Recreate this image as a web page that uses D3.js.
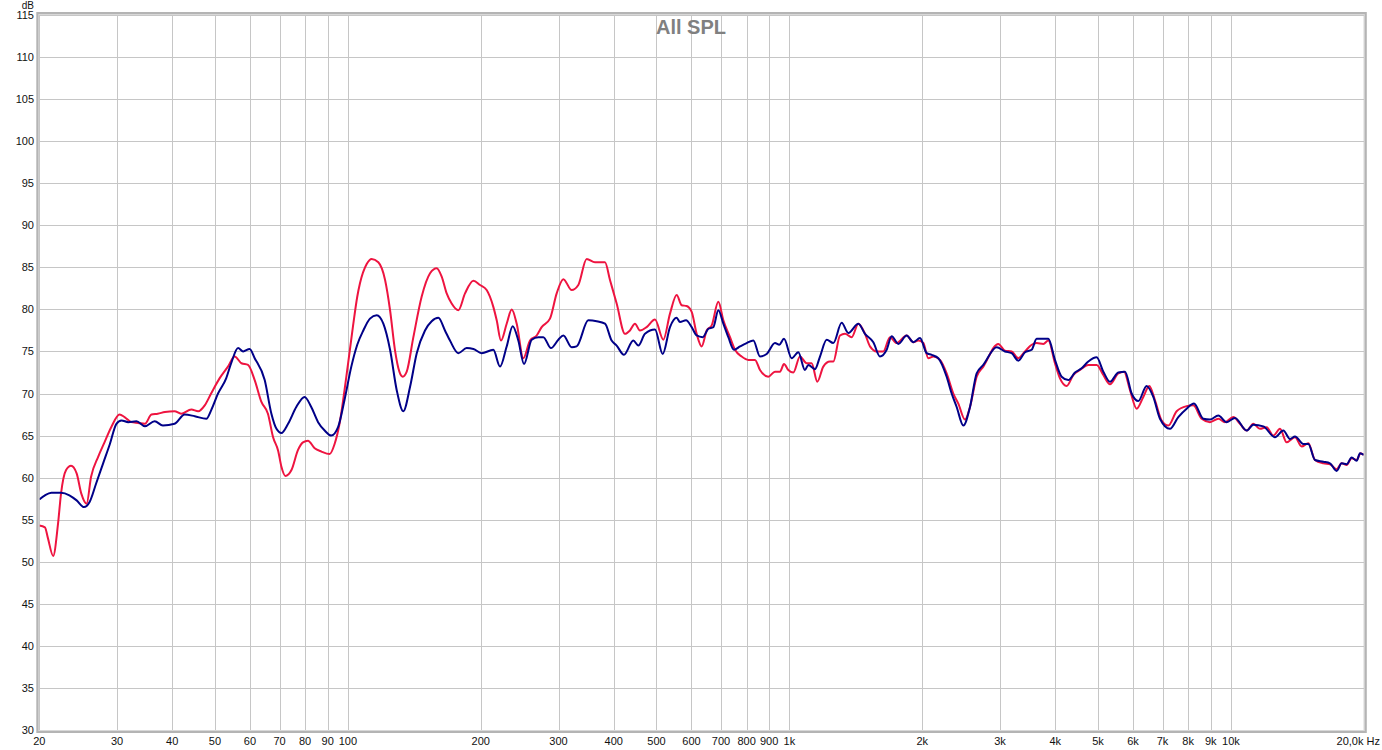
<!DOCTYPE html>
<html>
<head>
<meta charset="utf-8">
<script src="https://cdn.jsdelivr.net/npm/d3@7"></script>
<style>
  body { margin: 0; background: #fff; }
  svg { display: block; font-family: "Liberation Sans", Arial, sans-serif; }
  .grid line { stroke: #c6c6c6; stroke-width: 1; shape-rendering: crispEdges; }
  .lbl { font-size: 11px; fill: #111; }
</style>
</head>
<body>
<svg width="1382" height="750"></svg>
<script>
// values
const redFreq = [20, 20.6, 20.9, 21.5, 22.05, 22.4, 23.0, 23.6, 24.3, 24.9, 25.6, 26.2, 27.2, 28.1, 29.1,
  30.4, 31.2, 32.3, 33.5, 34.7, 35.9, 37.1, 38.5, 40.5, 41.9, 44.2, 45.8, 47.4, 49.0, 51.2, 53.5, 55.4,
  57.4, 59.4, 61.5, 63.7, 65.9, 67.7, 69.5, 70.7, 72.2, 74.5, 77.1, 79.1, 81.2, 84.1, 87.1, 90.9, 93.3,
  95.8, 99.2, 102.7, 105.0,
  106.5, 110.3, 113.2, 117.2, 121.4, 124.6, 127.8, 130.8, 133.1, 135.9, 140.7, 146.9, 153.5, 158.9, 163.1,
  167.4, 171.8, 177.9, 184.2, 192.4, 199.2, 206.2, 213.5, 217.3, 222.2, 228.9, 235.0, 241.2, 249.7, 258.5,
  267.7, 274.7, 286.9, 297.1, 307.6, 321.3, 332.6, 347.4, 362.8, 382.2, 392.3, 406.2, 424.2, 435.4, 446.9,
  458.7, 475.0, 496.1, 518.1, 536.5, 555.5,
  570.1, 585.2, 600.7, 616.5, 632.9, 649.6, 666.8, 690.3, 708.6, 733.6, 753.0, 779.6, 807.2, 835.8, 857.9,
  895.9, 927.6, 952.1, 972.2, 994.4, 1020.6, 1056.8, 1094.2, 1123.1, 1156.8, 1193.5, 1235.8, 1257.5, 1302,
  1336.4, 1383.7, 1432.6, 1483.3, 1522.5, 1576.4, 1632.1, 1689.9, 1749.7, 1843.4, 1908.6, 1959, 2010.8,
  2063.8, 2118.4, 2193.4, 2271, 2351.2, 2413.4, 2498.8, 2564.8, 2655.6, 2749.4,
  2973, 3078, 3187, 3300, 3417, 3538, 3631, 3760, 3859, 3995, 4101, 4246, 4396, 4552, 4754, 4965, 5141,
  5323, 5559, 5726, 5908, 6117, 6333, 6534, 6731, 6969, 7215, 7536, 7939, 8220, 8586, 8967, 9365, 9697,
  10127, 10486, 10857, 11241, 11639, 12051, 12477, 12919, 13376, 13970, 14464, 14975, 15505, 16193, 16766,
  17359, 17818, 18289, 18772, 19268, 19674, 20000];
const redDb = [54.3, 54.1, 52.9, 50.7, 54.5, 58.1, 60.9, 61.4, 60.5, 58.1, 56.9, 60.1, 62.5, 64.2, 66.0,
  67.5, 67.2, 66.6, 66.5, 66.4, 67.5, 67.6, 67.8, 67.9, 67.6, 68.1, 67.9, 68.6, 70.0, 71.8, 73.2, 74.4,
  73.6, 73.4, 71.6, 69.0, 67.6, 64.8, 63.2, 61.3, 60.2, 60.9, 63.3, 64.2, 64.4, 63.5, 63.1, 62.8, 64.0,
  66.5, 72.0, 78.0, 81.5,
  83.1, 85.4, 86.0, 85.6, 83.5, 79.9, 75.2, 72.6, 72.0, 72.6, 76.7, 81.5, 84.3, 84.9, 83.9,
  81.9, 80.7, 79.9, 81.9, 83.4, 82.9, 82.3, 80.3, 78.7, 76.3, 78.3, 80.0, 78.3, 74.2, 76.3,
  76.9, 77.9, 78.9, 81.9, 83.6, 82.3, 82.9, 86.0, 85.6, 85.6, 83.5, 80.7, 77.1, 77.5, 78.3,
  77.5, 77.9, 78.8, 76.4, 79.5, 81.7,
  80.5, 80.4, 79.7, 77.1, 75.6, 77.5, 78.1, 80.9, 78.7, 76.7, 75.2, 74.4, 74.0, 74.0, 72.8,
  72.0, 72.6, 72.6, 73.5, 72.8, 72.5, 74.4, 73.6, 73.6, 71.4, 73.2, 73.8, 73.8, 76.9,
  77.1, 76.7, 78.3, 77.1, 75.6, 75.0, 75.0, 76.7, 76.0, 76.9, 76.1, 76.3, 76.0,
  74.2, 74.4, 74.0, 72.4, 70.0, 68.8, 66.9, 68.4, 72.0, 73.2,
  75.9, 75.1, 75.0, 74.2, 75.0, 75.8, 76.0, 75.9, 76.3, 73.6, 71.8, 70.9, 72.2, 72.8, 73.4, 73.4, 72.2,
  71.1, 72.4, 72.6, 70.4, 68.2, 69.6, 70.9, 69.2, 66.8, 66.2, 67.9, 68.5, 68.6, 67.0, 66.6, 67.0, 66.6,
  67.2, 66.4, 65.6, 66.4, 65.8, 66.0, 65.0, 65.8, 64.2, 64.8, 63.7, 64.1, 62.1, 61.7, 61.6,
  61.0, 61.7, 61.5, 62.3, 62.1, 62.9, 62.7];

const blueFreq = [20, 20.6, 21.3, 22.4, 23.4, 24.3, 25.25, 26.0, 26.9, 27.9, 28.9, 29.9, 30.7, 31.8, 33.2,
  34.7, 36.5, 38.1, 40.5, 42.7, 45.0, 47.8, 49.0, 50.8, 53.0, 54.4, 56.4, 57.9, 59.9, 61.5, 64.8, 67.1,
  68.9, 70.7, 73.2, 76.4, 79.8, 82.6, 85.6, 88.6, 91.7, 95.0, 98.3, 101.8, 105.0,
  108.4, 112.2, 116.2, 120.3, 124.6, 129.0, 133.5, 138.3, 143.2, 149.5, 154.8, 160.3, 165.9, 170.3, 177.9,
  185.8, 192.4, 200.9, 213.5, 221.1, 228.9, 236.2, 243.2, 250.6, 260.8, 270.0, 277.1, 288.4, 299.7, 307.6,
  321.3, 329.7, 350.4, 366.0, 382.2, 395.7, 406.2, 422.0, 443.0, 454.8, 470.9, 496.1, 516.4, 536.5, 555.5,
  565.2, 583.2, 600.7, 616.5, 636.2, 655.3, 672.5, 690.3, 708.6, 727.3, 749.1, 772.9, 800.2, 828.6, 857.9,
  888.2, 927.6, 948.8, 972.2, 1011.9, 1047.6, 1084.7, 1103.7, 1142.8, 1173, 1214.5, 1257.5, 1313.3, 1359.8,
  1432.6, 1483.3, 1549.2, 1604, 1660.8, 1704.6, 1764.9, 1843.4, 1908.6, 1976.1, 2046.2, 2100.2, 2174.4,
  2271, 2331, 2392.6, 2477.2, 2564.8, 2655.6, 2749.4,
  2947, 3078, 3187, 3300, 3417, 3538, 3631, 3760, 3859, 3995, 4137, 4283, 4435, 4591, 4754, 4965, 5141,
  5323, 5559, 5756, 5960, 6170, 6444, 6672, 6908, 7278, 7601, 7939, 8249, 8660, 8967, 9365, 9781, 10216,
  10857, 11241, 11843, 12586, 13145, 13610, 13970, 14590, 14975, 15505, 16193, 16766, 17359, 17818, 18289,
  18772, 19268, 19606, 20000];
const blueDb = [57.4, 57.9, 58.2, 58.2, 57.9, 57.3, 56.5, 57.1, 59.3, 61.7, 64.0, 66.4, 66.8, 66.6, 66.7,
  66.1, 66.7, 66.2, 66.4, 67.5, 67.3, 67.0, 68.0, 70.0, 71.8, 73.6, 75.4, 75.0, 75.3, 74.2, 71.6, 67.6,
  65.8, 65.3, 66.4, 68.4, 69.6, 68.4, 66.6, 65.6, 65.0, 66.0, 69.3, 73.2, 75.8,
  77.5, 78.9, 79.3, 78.3, 75.2, 70.4, 67.9, 70.8, 74.8, 77.5, 78.6, 79.0, 77.5, 76.3, 74.8,
  75.4, 75.3, 74.8, 75.2, 73.2, 75.6, 78.0, 76.3, 73.5, 76.4, 76.7, 76.7, 75.4, 76.4, 76.9,
  75.5, 75.6, 78.7, 78.6, 78.3, 76.3, 75.7, 74.6, 76.3, 75.7, 77.1, 77.6, 74.7, 77.9, 79.0,
  78.5, 78.7, 77.9, 76.9, 76.7, 77.7, 77.9, 79.9, 78.3, 76.7, 75.2, 75.6, 76.0, 76.3, 74.4,
  74.7, 76.0, 75.8, 76.5, 74.2, 74.9, 72.8, 73.4, 72.9, 74.4, 76.4, 76.0, 78.4, 77.2,
  78.3, 77.1, 76.1, 74.4, 75.2, 76.8, 75.9, 76.9, 76.1, 76.6, 74.8, 74.6, 74.2,
  72.0, 70.0, 68.4, 66.2, 68.4, 72.4, 73.4,
  75.5, 75.0, 74.8, 73.9, 74.9, 75.2, 76.5, 76.5, 76.5, 74.0, 72.0, 71.6, 72.5, 73.0, 73.8, 74.3, 72.6,
  71.4, 72.5, 72.6, 70.0, 69.1, 70.9, 69.6, 67.0, 65.8, 67.2, 68.2, 68.8, 67.0, 66.9, 67.4, 66.6, 67.1,
  65.6, 66.3, 66.1, 64.8, 65.6, 64.6, 64.9, 64.0, 64.0, 62.1, 61.9, 61.7, 60.8, 61.7, 61.6,
  62.4, 62.0, 62.9, 62.7];

const yTicks = d3.range(30, 116, 5);
const xTicks = [20, 30, 40, 50, 60, 70, 80, 90, 100, 200, 300, 400, 500, 600, 700, 800, 900,
  1000, 2000, 3000, 4000, 5000, 6000, 7000, 8000, 9000, 10000, 20000];

const svg = d3.select("svg");
const plotL = 39.3, plotR = 1363.8, plotT = 15, plotB = 730;

const x = d3.scaleLog().domain([20, 20000]).range([plotL, plotR]);
const y = d3.scaleLinear().domain([30, 115]).range([plotB, plotT]);

svg.append("rect").attr("width", 1382).attr("height", 750).attr("fill", "#fff");

// grid
const grid = svg.append("g").attr("class", "grid");
grid.selectAll("line.h").data(yTicks).enter().append("line")
    .attr("x1", plotL).attr("x2", plotR)
    .attr("y1", d => Math.round(y(d)) + 0.5).attr("y2", d => Math.round(y(d)) + 0.5);
grid.selectAll("line.v").data(xTicks).enter().append("line")
    .attr("y1", plotT).attr("y2", plotB)
    .attr("x1", d => Math.round(x(d)) + 0.5).attr("x2", d => Math.round(x(d)) + 0.5);

// title sits over the grid
svg.append("text")
    .attr("x", 691).attr("y", 34)
    .attr("text-anchor", "middle")
    .style("font-size", "20px").style("font-weight", "bold")
    .attr("fill", "#808080")
    .text("All SPL");

// curves
svg.append("clipPath").attr("id", "plot")
  .append("rect").attr("x", plotL).attr("y", plotT).attr("width", plotR - plotL).attr("height", plotB - plotT);

const line = d3.line()
    .x(d => x(d[0]))
    .y(d => y(d[1]))
    .curve(d3.curveMonotoneX);

const red = redFreq.map((f, i) => [f, redDb[i]]);
const blue = blueFreq.map((f, i) => [f, blueDb[i]]);

svg.append("path").datum(red)
    .attr("clip-path", "url(#plot)")
    .attr("fill", "none").attr("stroke", "#ee1440").attr("stroke-width", 2)
    .attr("stroke-linejoin", "round")
    .attr("d", line);

svg.append("path").datum(blue)
    .attr("clip-path", "url(#plot)")
    .attr("fill", "none").attr("stroke", "#000088").attr("stroke-width", 2)
    .attr("stroke-linejoin", "round")
    .attr("d", line);

// frame
svg.append("rect")
    .attr("x", plotL - 1.5).attr("y", plotT - 1.5)
    .attr("width", plotR - plotL + 3).attr("height", plotB - plotT + 3)
    .attr("fill", "none").attr("stroke", "#b4b4b4").attr("stroke-width", 3);
svg.append("rect")
    .attr("x", plotL - 0.5).attr("y", plotT - 0.5)
    .attr("width", plotR - plotL + 1).attr("height", plotB - plotT + 1)
    .attr("fill", "none").attr("stroke", "#d8d8d8").attr("stroke-width", 1);

// y labels
svg.selectAll("text.yl").data(yTicks).enter().append("text")
    .attr("class", "lbl")
    .attr("x", 34).attr("y", d => y(d) + 4)
    .attr("text-anchor", "end")
    .text(d => d);
svg.append("text").attr("class", "lbl")
    .attr("x", 34).attr("y", 9).attr("text-anchor", "end")
    .style("font-size", "10px")
    .text("dB");

// x labels
function fmt(f) {
  if (f < 1000) return String(f);
  return (f / 1000) + "k";
}
svg.selectAll("text.xl").data(xTicks.slice(0, -1)).enter().append("text")
    .attr("class", "lbl")
    .attr("x", d => x(d)).attr("y", 745)
    .attr("text-anchor", "middle")
    .text(fmt);
svg.append("text").attr("class", "lbl")
    .attr("x", 1380).attr("y", 745).attr("text-anchor", "end")
    .text("20,0k Hz");
</script>
</body>
</html>
